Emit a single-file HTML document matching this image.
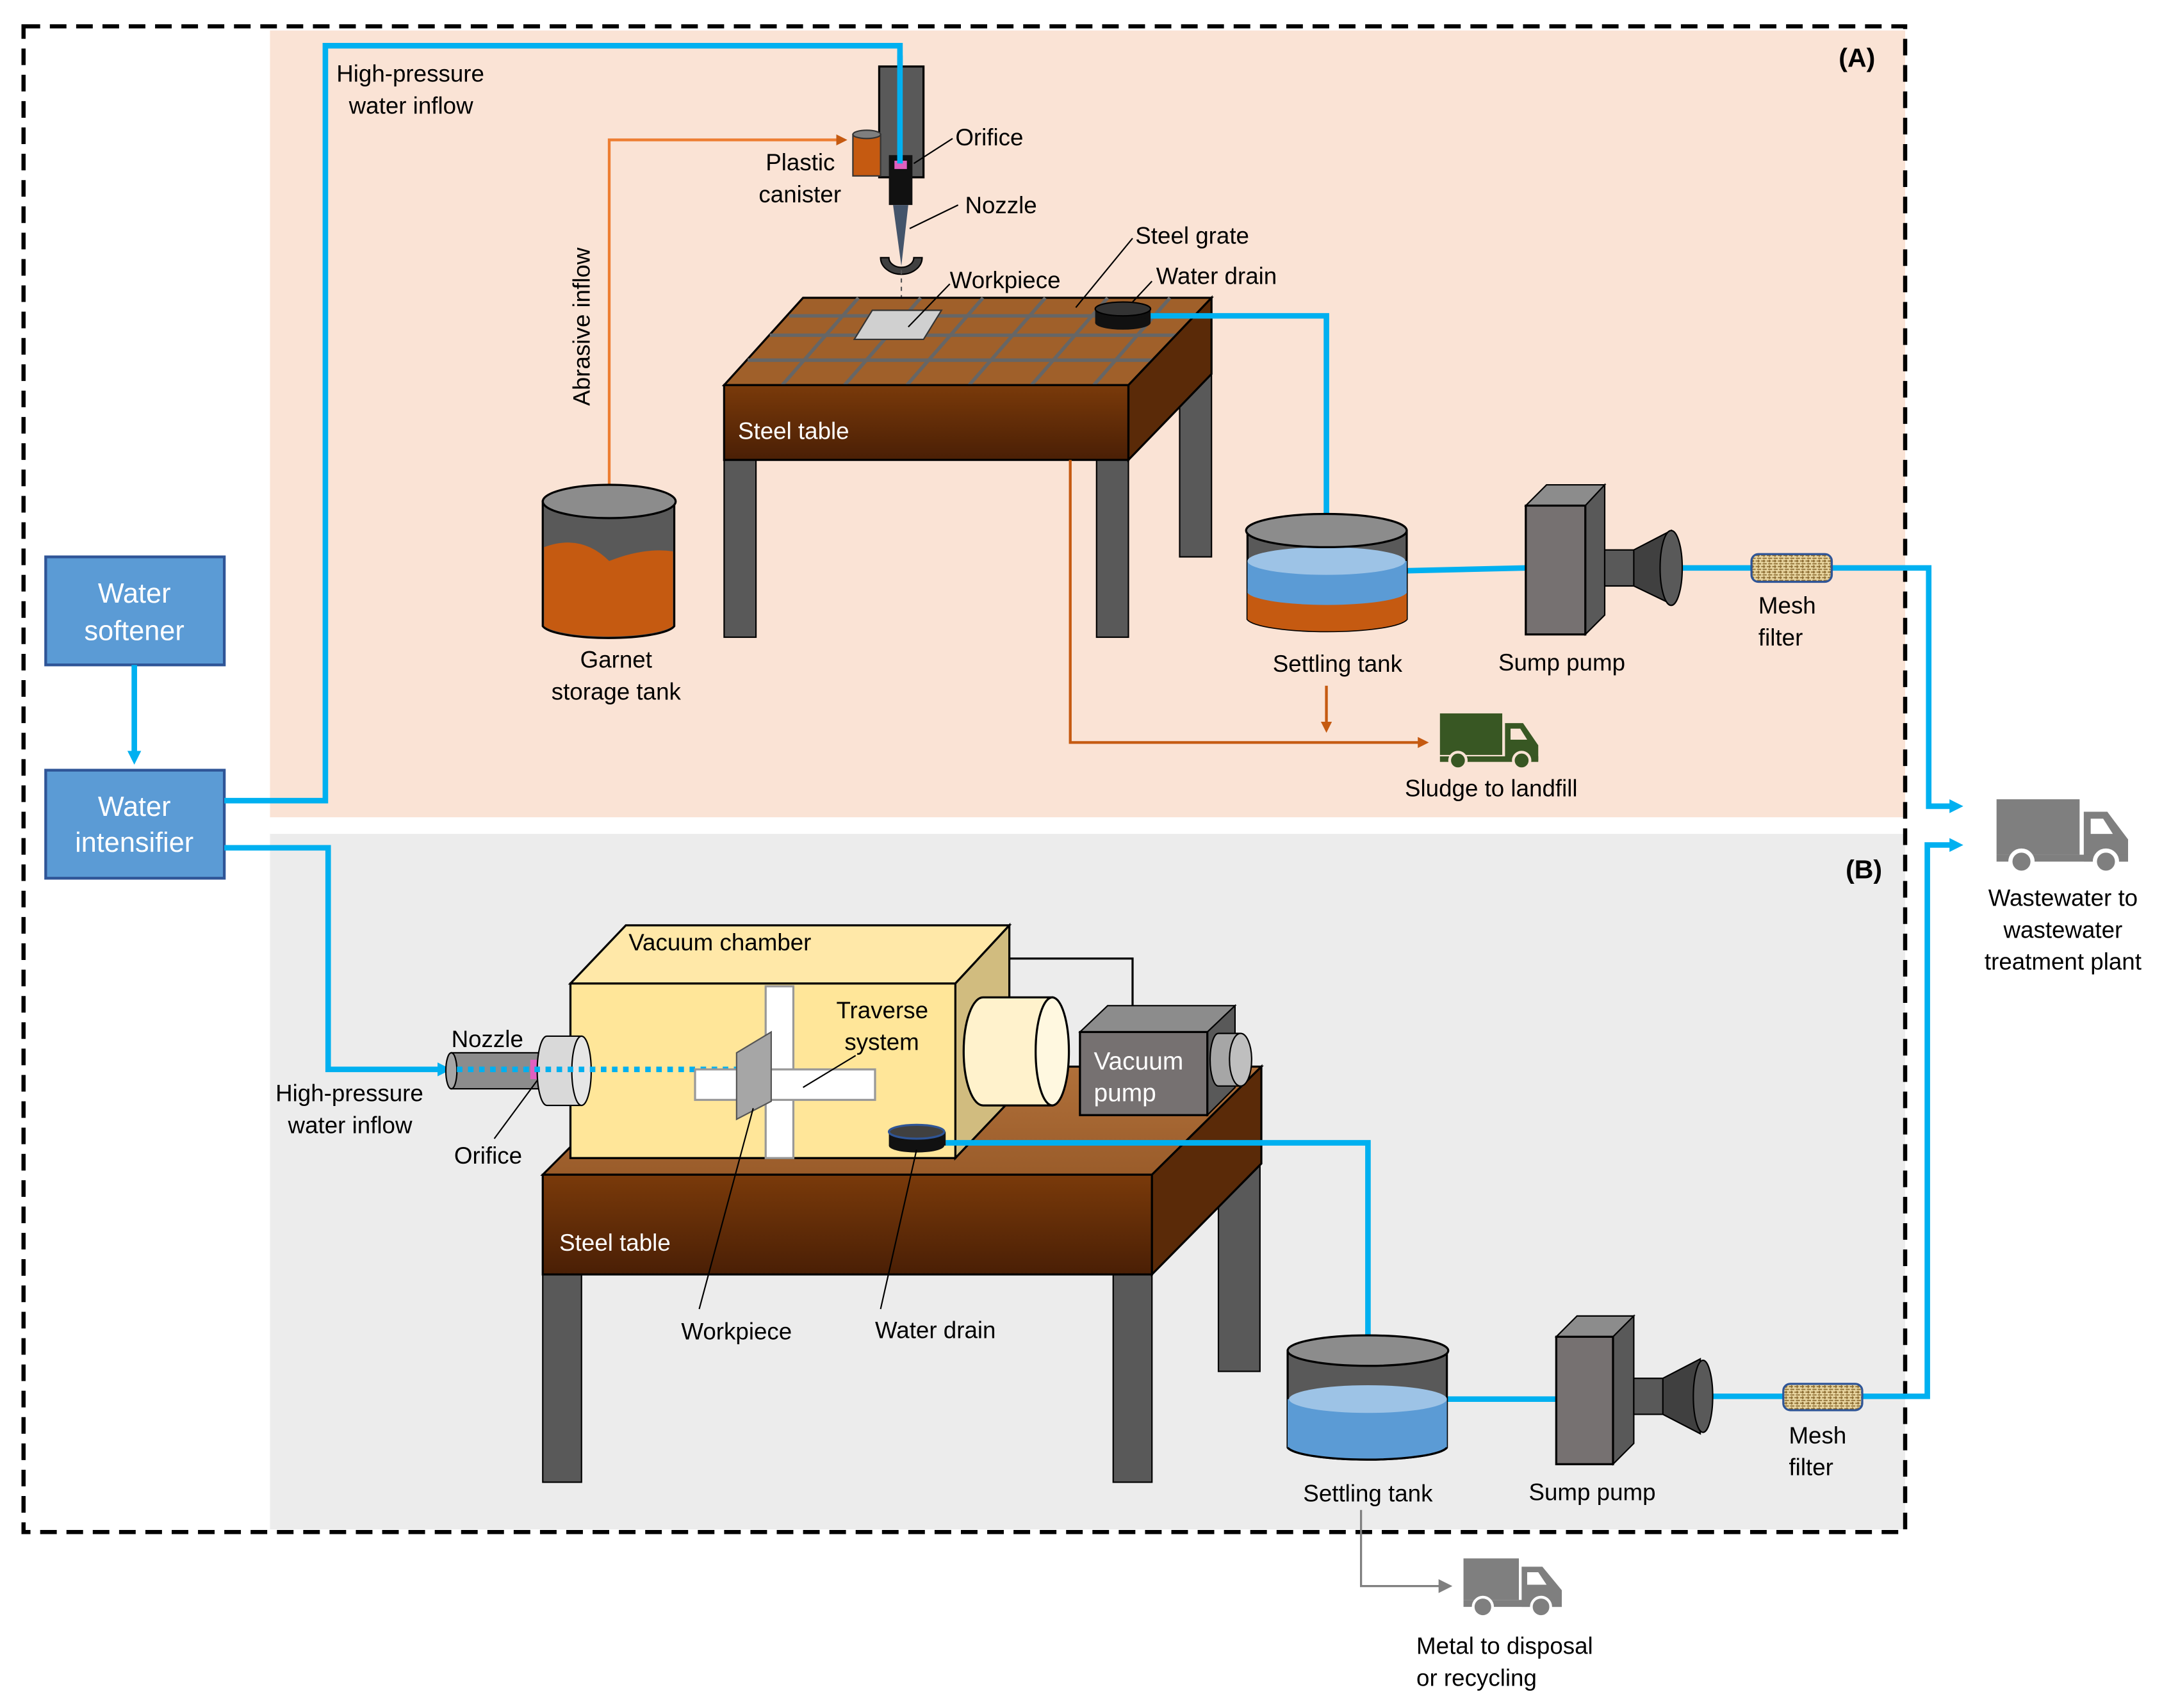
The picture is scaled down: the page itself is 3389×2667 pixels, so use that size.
<!DOCTYPE html>
<html><head><meta charset="utf-8"><style>html,body{margin:0;padding:0;background:#fff}svg{display:block}text{font-family:"Liberation Sans",Arial,sans-serif}</style></head><body>
<svg width="3389" height="2667" viewBox="0 0 1568 1233" preserveAspectRatio="none" xmlns="http://www.w3.org/2000/svg">
<defs>
<linearGradient id="br" x1="0" y1="0" x2="0" y2="1"><stop offset="0" stop-color="#7a3a0a"/><stop offset="1" stop-color="#4a1f05"/></linearGradient>
<linearGradient id="brt" x1="0" y1="0" x2="0" y2="1"><stop offset="0" stop-color="#b0703a"/><stop offset="1" stop-color="#9a5c2a"/></linearGradient>
<marker id="ab" markerWidth="10" markerHeight="10" refX="6" refY="5" orient="auto" markerUnits="userSpaceOnUse"><path d="M0,0L10,5L0,10z" fill="#00b0f0"/></marker>
<marker id="ao" markerWidth="8" markerHeight="8" refX="6" refY="4" orient="auto" markerUnits="userSpaceOnUse"><path d="M0,0L8,4L0,8z" fill="#c55a11"/></marker>
<marker id="ag" markerWidth="10" markerHeight="10" refX="6" refY="5" orient="auto" markerUnits="userSpaceOnUse"><path d="M0,0L10,5L0,10z" fill="#7f7f7f"/></marker>
<pattern id="mesh" width="4" height="4" patternUnits="userSpaceOnUse"><rect width="4" height="4" fill="#e8d5a0"/><path d="M0,1h3M1,3h3M2,0v2" stroke="#8a6a30" stroke-width="0.8"/></pattern>
</defs>
<rect x="195" y="22" width="1181" height="568" fill="#fae3d5"/>
<rect x="195" y="602" width="1181" height="502" fill="#ececec"/>
<rect x="17" y="19" width="1359" height="1087" fill="none" stroke="#000" stroke-width="3" stroke-dasharray="12,7"/>
<text x="1328" y="48" font-size="19" font-weight="bold">(A)</text>
<text x="1333" y="634" font-size="19" font-weight="bold">(B)</text>

<rect x="33" y="402" width="129" height="78" fill="#5b9bd5" stroke="#2f5597" stroke-width="2"/>
<text x="97" y="435" font-size="20" fill="#fff" text-anchor="middle">Water</text>
<text x="97" y="462" font-size="20" fill="#fff" text-anchor="middle">softener</text>
<rect x="33" y="556" width="129" height="78" fill="#5b9bd5" stroke="#2f5597" stroke-width="2"/>
<text x="97" y="589" font-size="20" fill="#fff" text-anchor="middle">Water</text>
<text x="97" y="615" font-size="20" fill="#fff" text-anchor="middle">intensifier</text>
<line x1="97" y1="480" x2="97" y2="548" stroke="#00b0f0" stroke-width="4" marker-end="url(#ab)"/>

<g fill="none" stroke="#00b0f0" stroke-width="4">
<polyline points="162,578 235,578 235,33 650,33 650,118"/>
<polyline points="162,612 237,612 237,772 322,772" marker-end="url(#ab)"/>
<polyline points="1016,412 1102,410"/>
<polyline points="1212,410 1265,410"/>
<polyline points="1323,410 1393,410 1393,582 1414,582" marker-end="url(#ab)"/>
<polyline points="1045,1010 1124,1010"/>
<polyline points="1235,1008 1288,1008"/>
<polyline points="1345,1008 1392,1008 1392,610 1414,610" marker-end="url(#ab)"/>
</g>
<text x="243" y="59" font-size="17">High-pressure</text>
<text x="252" y="82" font-size="17">water inflow</text>

<polyline points="440,350 440,101 610,101" fill="none" stroke="#ed7d31" stroke-width="2" marker-end="url(#ao)"/>
<text transform="translate(426,293) rotate(-90)" font-size="17">Abrasive inflow</text>
<rect x="635" y="48" width="32" height="80" fill="#595959" stroke="#000" stroke-width="1.5"/>
<rect x="616" y="97" width="20" height="30" fill="#c55a11" stroke="#333"/>
<ellipse cx="626" cy="97" rx="10" ry="3" fill="#7f7f7f" stroke="#333"/>
<rect x="642" y="112" width="17" height="36" fill="#111"/>
<rect x="646" y="116" width="9" height="6" fill="#e060c0"/>
<polygon points="645,148 656,148 651,192" fill="#44546a"/>
<line x1="650" y1="40" x2="650" y2="118" stroke="#00b0f0" stroke-width="4"/>
<path d="M636,186 A15,12 0 0 0 666,186 L660,186 A9,7 0 0 1 642,186z" fill="#404040" stroke="#000"/>
<line x1="651" y1="195" x2="651" y2="215" stroke="#555" stroke-dasharray="3,3"/>
<text x="690" y="105" font-size="17">Orifice</text>
<line x1="688" y1="100" x2="660" y2="118" stroke="#000"/>
<text x="553" y="123" font-size="17">Plastic</text>
<text x="548" y="146" font-size="17">canister</text>
<text x="697" y="154" font-size="17">Nozzle</text>
<line x1="692" y1="148" x2="657" y2="165" stroke="#000"/>

<rect x="523" y="330" width="23" height="130" fill="#595959" stroke="#000"/>
<rect x="792" y="330" width="23" height="130" fill="#595959" stroke="#000"/>
<rect x="852" y="268" width="23" height="134" fill="#595959" stroke="#000"/>
<polygon points="523,278 580,215 875,215 815,278" fill="#a0602a" stroke="#000" stroke-width="1.5"/>
<g stroke="#666" stroke-width="2.5">
<line x1="540" y1="260" x2="840" y2="260"/><line x1="556" y1="242" x2="857" y2="242"/><line x1="570" y1="228" x2="869" y2="228"/>
<line x1="565" y1="278" x2="620" y2="215"/><line x1="610" y1="278" x2="665" y2="215"/><line x1="655" y1="278" x2="710" y2="215"/><line x1="700" y1="278" x2="755" y2="215"/><line x1="745" y1="278" x2="800" y2="215"/><line x1="790" y1="278" x2="845" y2="215"/>
</g>
<polygon points="523,278 815,278 815,332 523,332" fill="url(#br)" stroke="#000" stroke-width="1.5"/>
<polygon points="815,278 875,215 875,270 815,332" fill="#5a2a08" stroke="#000" stroke-width="1.5"/>
<text x="533" y="317" font-size="17" fill="#fff">Steel table</text>
<polygon points="617,245 630,224 680,224 667,245" fill="#d0d0d0" stroke="#333"/>
<text x="686" y="208" font-size="17">Workpiece</text>
<line x1="686" y1="205" x2="656" y2="236" stroke="#000"/>
<text x="820" y="176" font-size="17">Steel grate</text>
<line x1="818" y1="172" x2="777" y2="222" stroke="#000"/>
<polyline points="831,228 958,228 958,372" fill="none" stroke="#00b0f0" stroke-width="4"/>
<rect x="791" y="223" width="40" height="10" fill="#111"/>
<ellipse cx="811" cy="233" rx="20" ry="5" fill="#111"/>
<ellipse cx="811" cy="223" rx="20" ry="5" fill="#333" stroke="#000"/>
<text x="835" y="205" font-size="17">Water drain</text>
<line x1="832" y1="203" x2="818" y2="218" stroke="#000"/>

<path d="M392,362 V452 A48,10 0 0 0 487,452 V362z" fill="#595959" stroke="#000" stroke-width="1.5"/>
<path d="M393,395 Q420,385 440,405 Q465,395 486,398 V452 A48,10 0 0 1 393,452z" fill="#c55a11"/>
<ellipse cx="440" cy="362" rx="48" ry="12" fill="#8c8c8c" stroke="#000" stroke-width="1.5"/>
<text x="445" y="482" font-size="17" text-anchor="middle">Garnet</text>
<text x="445" y="505" font-size="17" text-anchor="middle">storage tank</text>

<path d="M901,383 V447 A58,10 0 0 0 1016,447 V383z" fill="#595959" stroke="#000" stroke-width="1.5"/>
<path d="M901,425 V447 A58,10 0 0 0 1016,447 V425z" fill="#c55a11"/>
<path d="M901,405 V428 A58,10 0 0 0 1016,428 V405z" fill="#5b9bd5"/>
<ellipse cx="958" cy="405" rx="57" ry="10" fill="#9dc3e6"/>
<ellipse cx="958" cy="383" rx="58" ry="12" fill="#8c8c8c" stroke="#000" stroke-width="1.5"/>
<text x="966" y="485" font-size="17" text-anchor="middle">Settling tank</text>
<line x1="958" y1="495" x2="958" y2="527" stroke="#c55a11" stroke-width="2" marker-end="url(#ao)"/>

<polygon points="1102,365 1117,350 1159,350 1145,365" fill="#8c8c8c" stroke="#000"/>
<polygon points="1145,365 1159,350 1159,444 1145,458" fill="#595959" stroke="#000"/>
<rect x="1102" y="365" width="43" height="93" fill="#767171" stroke="#000" stroke-width="1.5"/>
<rect x="1159" y="397" width="22" height="26" fill="#595959" stroke="#000"/>
<polygon points="1180,397 1207,383 1207,436 1180,423" fill="#404040" stroke="#000"/>
<ellipse cx="1207" cy="410" rx="8" ry="27" fill="#595959" stroke="#000"/>
<text x="1128" y="484" font-size="17" text-anchor="middle">Sump pump</text>
<rect x="1265" y="400" width="58" height="20" rx="5" fill="url(#mesh)" stroke="#2f5597" stroke-width="1.5"/>
<text x="1270" y="443" font-size="17">Mesh</text>
<text x="1270" y="466" font-size="17">filter</text>

<polyline points="773,332 773,536 1030,536" fill="none" stroke="#c55a11" stroke-width="2" marker-end="url(#ao)"/>
<g fill="#385723">
<rect x="1040" y="515" width="45" height="30"/>
<path d="M1087,522 H1100 L1111,538 V549 H1087z"/><rect x="1040" y="546" width="71" height="4"/>
<circle cx="1053" cy="549" r="6" stroke="#fae3d5" stroke-width="2"/><circle cx="1099" cy="549" r="6" stroke="#fae3d5" stroke-width="2"/>
</g>
<path d="M1091,526 h7 l5,8 h-12z" fill="#fae3d5"/>
<text x="1077" y="575" font-size="17" text-anchor="middle">Sludge to landfill</text>

<g fill="#7f7f7f">
<rect x="1442" y="577" width="60" height="40"/>
<path d="M1505,586 H1522 L1537,606 V622 H1505z"/><rect x="1442" y="617" width="95" height="5"/>
<circle cx="1460" cy="622" r="8" stroke="#fff" stroke-width="3"/><circle cx="1521" cy="622" r="8" stroke="#fff" stroke-width="3"/>
</g>
<path d="M1510,591 h9 l7,11 h-16z" fill="#fff"/>
<text x="1490" y="654" font-size="17" text-anchor="middle">Wastewater to</text>
<text x="1490" y="677" font-size="17" text-anchor="middle">wastewater</text>
<text x="1490" y="700" font-size="17" text-anchor="middle">treatment plant</text>

<rect x="392" y="918" width="28" height="152" fill="#595959" stroke="#000"/>
<rect x="804" y="918" width="28" height="152" fill="#595959" stroke="#000"/>
<rect x="880" y="838" width="30" height="152" fill="#595959" stroke="#000"/>
<polygon points="392,848 470,770 911,770 832,848" fill="url(#brt)" stroke="#000" stroke-width="1.5"/>
<polygon points="392,848 832,848 832,920 392,920" fill="url(#br)" stroke="#000" stroke-width="1.5"/>
<polygon points="832,848 911,770 911,840 832,920" fill="#5a2a08" stroke="#000" stroke-width="1.5"/>
<text x="404" y="903" font-size="17" fill="#fff">Steel table</text>

<polygon points="412,710 452,668 729,668 690,710" fill="#ffe8a8" stroke="#000" stroke-width="1.5"/>
<polygon points="690,710 729,668 729,795 690,836" fill="#d1bc7f" stroke="#000" stroke-width="1.5"/>
<rect x="412" y="710" width="278" height="126" fill="#ffe699" stroke="#000" stroke-width="1.5"/>
<text x="454" y="686" font-size="17">Vacuum chamber</text>
<polyline points="729,692 818,692 818,726" fill="none" stroke="#000" stroke-width="1.5"/>
<path d="M710,720 H760 V798 H710 A14,39 0 0 1 710,720z" fill="#fff2cc" stroke="#000" stroke-width="1.5"/>
<ellipse cx="760" cy="759" rx="12" ry="39" fill="#fff8e0" stroke="#000" stroke-width="1.5"/>
<polygon points="780,745 800,726 892,726 872,745" fill="#8c8c8c" stroke="#000"/>
<polygon points="872,745 892,726 892,785 872,805" fill="#595959" stroke="#000"/>
<rect x="780" y="745" width="92" height="60" fill="#767171" stroke="#000" stroke-width="1.5"/>
<text x="790" y="772" font-size="18" fill="#fff">Vacuum</text>
<text x="790" y="795" font-size="18" fill="#fff">pump</text>
<path d="M880,746 H896 V784 H880 A6,19 0 0 1 880,746z" fill="#a6a6a6" stroke="#000"/>
<ellipse cx="896" cy="765" rx="8" ry="19" fill="#bfbfbf" stroke="#000"/>

<rect x="326" y="760" width="66" height="26" fill="#8c8c8c" stroke="#000"/>
<ellipse cx="326" cy="773" rx="4" ry="13" fill="#a6a6a6" stroke="#000"/>
<rect x="383" y="765" width="9" height="14" fill="#e060c0"/>
<path d="M395,748 H420 V798 H395 A7,25 0 0 1 395,748z" fill="#d9d9d9" stroke="#000"/>
<ellipse cx="420" cy="773" rx="7" ry="25" fill="#e6e6e6" stroke="#000"/>
<line x1="330" y1="772" x2="535" y2="772" stroke="#00b0f0" stroke-width="4" stroke-dasharray="4,4"/>
<text x="326" y="756" font-size="17">Nozzle</text>
<text x="199" y="795" font-size="17">High-pressure</text>
<text x="208" y="818" font-size="17">water inflow</text>
<text x="328" y="840" font-size="17">Orifice</text>
<line x1="357" y1="822" x2="388" y2="780" stroke="#000"/>

<rect x="553" y="712" width="20" height="124" fill="#fff" stroke="#999" stroke-width="1.5"/>
<rect x="502" y="772" width="130" height="22" fill="#fff" stroke="#999" stroke-width="1.5"/>
<polygon points="532,760 557,745 557,795 532,808" fill="#a6a6a6" stroke="#555"/>
<text x="604" y="735" font-size="17">Traverse</text>
<text x="610" y="758" font-size="17">system</text>
<line x1="618" y1="762" x2="580" y2="785" stroke="#000"/>
<polyline points="683,825 988,825 988,968" fill="none" stroke="#00b0f0" stroke-width="4"/>
<rect x="642" y="817" width="41" height="10" fill="#111"/>
<ellipse cx="662" cy="827" rx="20" ry="5" fill="#111"/>
<ellipse cx="662" cy="817" rx="20" ry="5" fill="#404040" stroke="#2f5597" stroke-width="1.5"/>
<line x1="662" y1="830" x2="636" y2="945" stroke="#000"/>
<line x1="544" y1="800" x2="505" y2="945" stroke="#000"/>
<text x="492" y="967" font-size="17">Workpiece</text>
<text x="632" y="966" font-size="17">Water drain</text>

<path d="M930,975 V1045 A58,10 0 0 0 1045,1045 V975z" fill="#595959" stroke="#000" stroke-width="1.5"/>
<path d="M930,1010 V1045 A58,10 0 0 0 1045,1045 V1010z" fill="#5b9bd5"/>
<ellipse cx="988" cy="1010" rx="57" ry="10" fill="#9dc3e6"/>
<ellipse cx="988" cy="975" rx="58" ry="11" fill="#8c8c8c" stroke="#000" stroke-width="1.5"/>
<path d="M930,1045 A58,10 0 0 0 1045,1045" fill="none" stroke="#000" stroke-width="1.5"/>
<text x="988" y="1084" font-size="17" text-anchor="middle">Settling tank</text>

<polygon points="1124,965 1139,950 1180,950 1165,965" fill="#8c8c8c" stroke="#000"/>
<polygon points="1165,965 1180,950 1180,1042 1165,1057" fill="#595959" stroke="#000"/>
<rect x="1124" y="965" width="41" height="92" fill="#767171" stroke="#000" stroke-width="1.5"/>
<rect x="1180" y="995" width="22" height="26" fill="#595959" stroke="#000"/>
<polygon points="1201,995 1228,981 1228,1035 1201,1021" fill="#404040" stroke="#000"/>
<ellipse cx="1230" cy="1008" rx="7" ry="26" fill="#595959" stroke="#000"/>
<text x="1150" y="1083" font-size="17" text-anchor="middle">Sump pump</text>
<rect x="1288" y="999" width="57" height="19" rx="5" fill="url(#mesh)" stroke="#2f5597" stroke-width="1.5"/>
<text x="1292" y="1042" font-size="17">Mesh</text>
<text x="1292" y="1065" font-size="17">filter</text>

<polyline points="983,1090 983,1145 1045,1145" fill="none" stroke="#7f7f7f" stroke-width="1.5" marker-end="url(#ag)"/>
<g fill="#7f7f7f">
<rect x="1057" y="1125" width="40" height="30"/>
<path d="M1099,1131 H1114 L1128,1148 V1160 H1099z"/><rect x="1057" y="1155" width="71" height="5"/>
<circle cx="1071" cy="1160" r="7" stroke="#fff" stroke-width="2"/><circle cx="1113" cy="1160" r="7" stroke="#fff" stroke-width="2"/>
</g>
<path d="M1103,1135 h8 l6,9 h-14z" fill="#fff"/>
<text x="1023" y="1194" font-size="17">Metal to disposal</text>
<text x="1023" y="1217" font-size="17">or recycling</text>
</svg>
</body></html>
